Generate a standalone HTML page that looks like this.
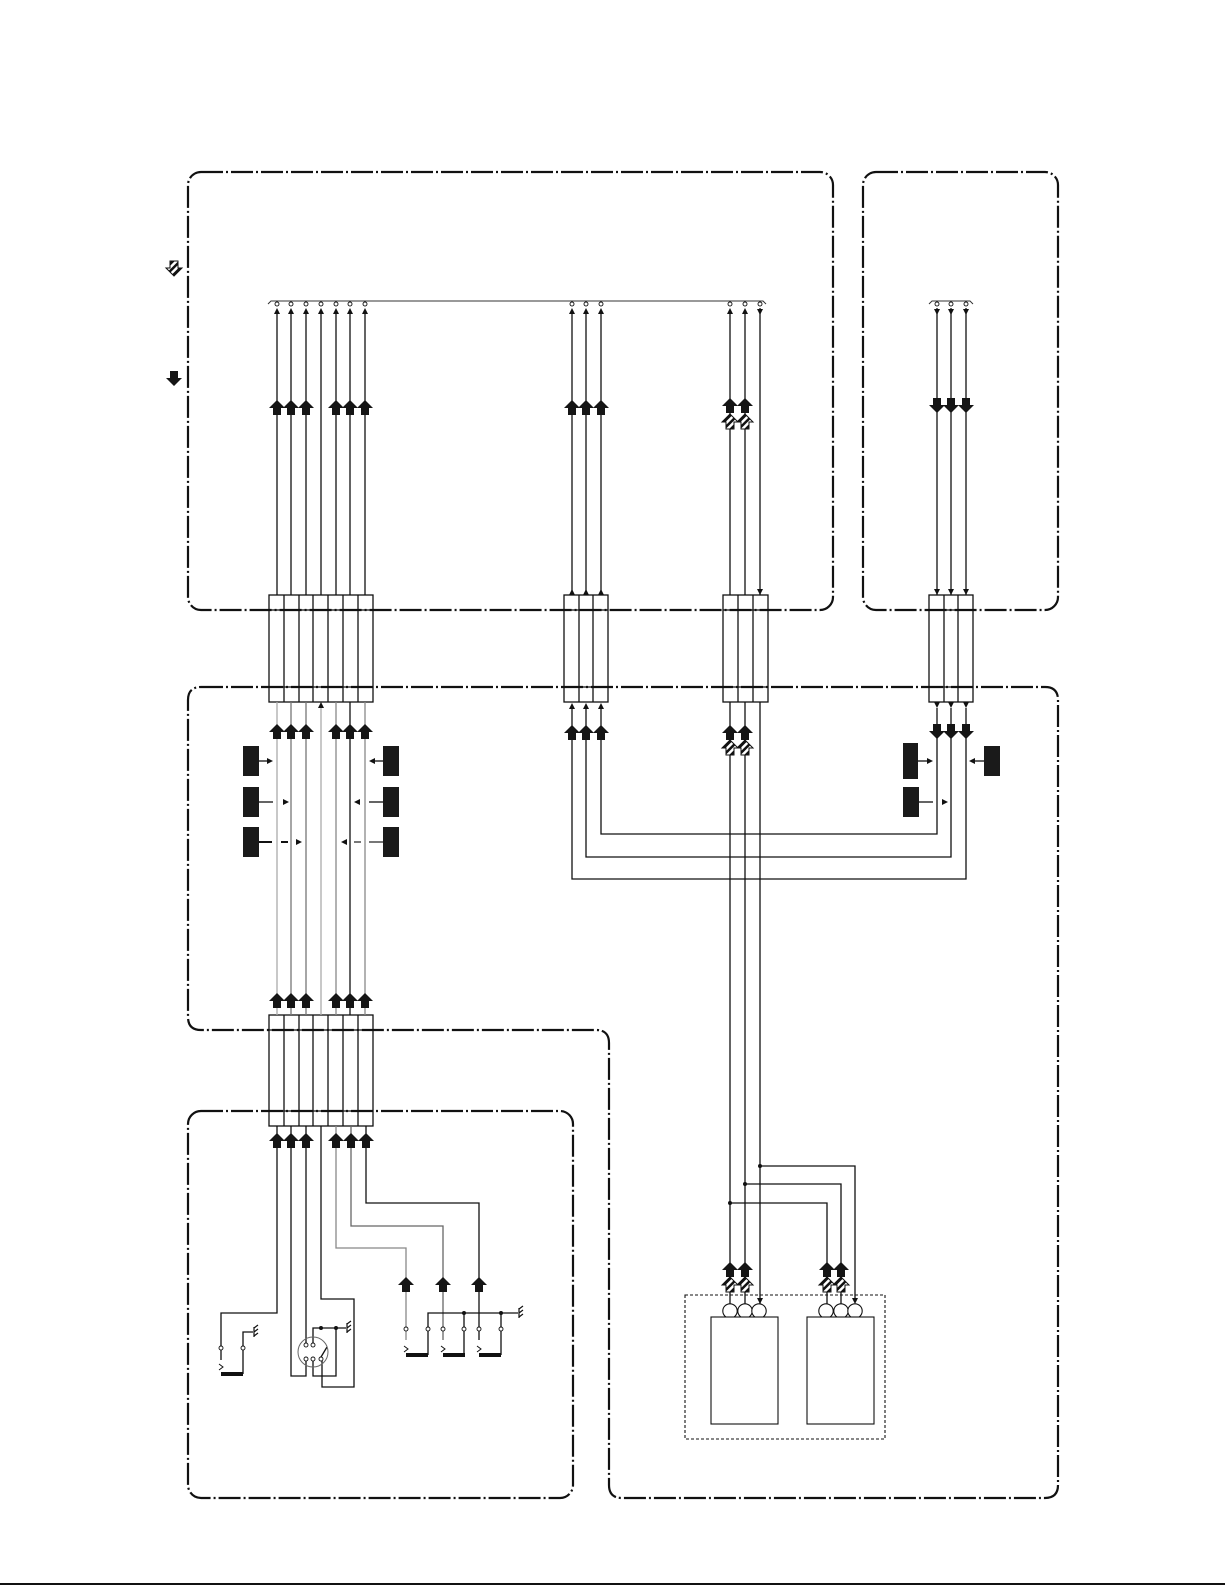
<!DOCTYPE html>
<html><head><meta charset="utf-8"><style>html,body{margin:0;padding:0;background:#fff}svg{display:block}</style></head>
<body>
<svg width="1225" height="1585" viewBox="0 0 1225 1585" xmlns="http://www.w3.org/2000/svg">
<defs>
<path id="au" d="M0,0 L8,8 L4,8 L4,15 L-4,15 L-4,8 L-8,8Z" fill="#151515"/>
<path id="ad" d="M0,15 L8,7 L4,7 L4,0 L-4,0 L-4,7 L-8,7Z" fill="#151515"/>
<pattern id="hp" width="5" height="5" patternUnits="userSpaceOnUse" patternTransform="rotate(45)"><rect width="5" height="5" fill="#fff"/><rect width="2.5" height="5" fill="#111"/></pattern>
<path id="ah" d="M0,0 L8,8 L4,8 L4,15 L-4,15 L-4,8 L-8,8Z" fill="url(#hp)" stroke="#111" stroke-width="1"/>
<path id="su" d="M0,0 L3,6 L-3,6Z" fill="#111"/>
<path id="sd" d="M0,0 L3,-6 L-3,-6Z" fill="#111"/>
<path id="sr" d="M0,0 L-6,-3 L-6,3Z" fill="#111"/>
<path id="sl" d="M0,0 L6,-3 L6,3Z" fill="#111"/>
<g id="gnd" stroke="#111" stroke-width="1.2" fill="none"><path d="M0,-5 V5 M0,-4 L4,-7 M0,0 L4,-3 M0,4 L4,1"/></g>
</defs>

<!-- dash-dot boxes -->
<g fill="none" stroke="#111" stroke-width="2.2" stroke-dasharray="22 3 2 3">
<rect x="188" y="172" width="645" height="438" rx="13"/>
<rect x="863" y="172" width="195" height="438" rx="13"/>
<path d="M201,687 H1045 Q1058,687 1058,700 V1485 Q1058,1498 1045,1498 H622 Q609,1498 609,1485 V1043 Q609,1030 596,1030 H201 Q188,1030 188,1017 V700 Q188,687 201,687 Z"/>
<rect x="188" y="1111" width="385" height="387" rx="13"/>
</g>
<line x1="0" y1="1584" x2="1225" y2="1584" stroke="#111" stroke-width="2"/>

<!-- legend icons -->
<use href="#ah" transform="translate(174,276) rotate(180)"/>
<use href="#ad" x="174" y="371"/>

<!-- brackets -->
<g fill="none" stroke="#333" stroke-width="1">
<path d="M268,304 L271,301 H763 L766,304"/>
<path d="M929,304 L932,301 H970 L973,304"/>
</g>

<!-- connectors -->
<g fill="none" stroke="#111" stroke-width="1.3">
<rect x="269" y="595" width="104" height="107"/>
<path d="M269,610 H373 M269,687 H373 M284,595 V702 M299,595 V702 M313,595 V702 M328,595 V702 M343,595 V702 M358,595 V702"/>
<rect x="564" y="595" width="44" height="107"/>
<path d="M564,610 H608 M564,687 H608 M579,595 V702 M593,595 V702"/>
<rect x="723" y="595" width="45" height="107"/>
<path d="M723,610 H768 M723,687 H768 M738,595 V702 M753,595 V702"/>
<rect x="929" y="595" width="44" height="107"/>
<path d="M929,610 H973 M929,687 H973 M944,595 V702 M958,595 V702"/>
<rect x="269" y="1015" width="104" height="111"/>
<path d="M269,1030 H373 M269,1111 H373 M284,1015 V1126 M299,1015 V1126 M313,1015 V1126 M328,1015 V1126 M343,1015 V1126 M358,1015 V1126"/>
</g>

<!-- top section wires -->
<g stroke="#111" stroke-width="1.3" fill="none">
<path d="M277,310 V595 M291,310 V595 M306,310 V595 M321,310 V595 M336,310 V595 M350,310 V595 M365,310 V595"/>
<path d="M572,310 V595 M586,310 V595 M601,310 V595"/>
<path d="M730,310 V595 M745,310 V595 M760,308 V595"/>
<path d="M937,308 V595 M951,308 V595 M966,308 V595"/>
</g>
<g fill="#fff" stroke="#111" stroke-width="0.9">
<circle cx="277" cy="304" r="2"/><circle cx="291" cy="304" r="2"/><circle cx="306" cy="304" r="2"/><circle cx="321" cy="304" r="2"/><circle cx="336" cy="304" r="2"/><circle cx="350" cy="304" r="2"/><circle cx="365" cy="304" r="2"/>
<circle cx="572" cy="304" r="2"/><circle cx="586" cy="304" r="2"/><circle cx="601" cy="304" r="2"/>
<circle cx="730" cy="304" r="2"/><circle cx="745" cy="304" r="2"/><circle cx="760" cy="304" r="2"/>
<circle cx="937" cy="304" r="2"/><circle cx="951" cy="304" r="2"/><circle cx="966" cy="304" r="2"/>
</g>
<g>
<use href="#su" x="277" y="308"/><use href="#su" x="291" y="308"/><use href="#su" x="306" y="308"/><use href="#su" x="321" y="308"/><use href="#su" x="336" y="308"/><use href="#su" x="350" y="308"/><use href="#su" x="365" y="308"/>
<use href="#su" x="572" y="308"/><use href="#su" x="586" y="308"/><use href="#su" x="601" y="308"/>
<use href="#su" x="730" y="308"/><use href="#su" x="745" y="308"/><use href="#sd" x="760" y="315"/>
<use href="#sd" x="937" y="315"/><use href="#sd" x="951" y="315"/><use href="#sd" x="966" y="315"/>
<use href="#su" x="572" y="589"/><use href="#su" x="586" y="589"/><use href="#su" x="601" y="589"/>
<use href="#sd" x="760" y="595"/>
<use href="#sd" x="937" y="595"/><use href="#sd" x="951" y="595"/><use href="#sd" x="966" y="595"/>
<use href="#au" x="277" y="400"/><use href="#au" x="291" y="400"/><use href="#au" x="306" y="400"/>
<use href="#au" x="336" y="400"/><use href="#au" x="350" y="400"/><use href="#au" x="365" y="400"/>
<use href="#au" x="572" y="400"/><use href="#au" x="586" y="400"/><use href="#au" x="601" y="400"/>
<use href="#au" x="730" y="398"/><use href="#au" x="745" y="398"/>
<use href="#ah" x="730" y="414"/><use href="#ah" x="745" y="414"/>
<use href="#ad" x="937" y="398"/><use href="#ad" x="951" y="398"/><use href="#ad" x="966" y="398"/>
</g>

<!-- middle section wires -->
<g fill="none" stroke-width="1.3">
<path d="M277,702 V1015" stroke="#aaa"/>
<path d="M291,702 V1015" stroke="#777"/>
<path d="M306,702 V1015" stroke="#777"/>
<path d="M321,708 V1015" stroke="#aaa"/>
<path d="M336,702 V1015" stroke="#888"/>
<path d="M350,702 V1015" stroke="#111"/>
<path d="M365,702 V1015" stroke="#888"/>
<g stroke="#111">
<path d="M601,709 V834 H937 V708"/>
<path d="M586,709 V857 H951 V708"/>
<path d="M572,709 V879 H966 V708"/>
<path d="M730,702 V1311 M745,702 V1311 M760,702 V1304"/>
<path d="M730,1203 H827 V1304 M745,1184 H841 V1304 M760,1166 H855 V1298"/>
</g>
</g>
<g>
<use href="#su" x="321" y="702"/>
<use href="#su" x="572" y="703"/><use href="#su" x="586" y="703"/><use href="#su" x="601" y="703"/>
<use href="#sd" x="937" y="708"/><use href="#sd" x="951" y="708"/><use href="#sd" x="966" y="708"/>
<use href="#au" x="277" y="724"/><use href="#au" x="291" y="724"/><use href="#au" x="306" y="724"/>
<use href="#au" x="336" y="724"/><use href="#au" x="350" y="724"/><use href="#au" x="365" y="724"/>
<use href="#au" x="572" y="725"/><use href="#au" x="586" y="725"/><use href="#au" x="601" y="725"/>
<use href="#au" x="730" y="725"/><use href="#au" x="745" y="725"/>
<use href="#ah" x="730" y="740"/><use href="#ah" x="745" y="740"/>
<use href="#ad" x="937" y="724"/><use href="#ad" x="951" y="724"/><use href="#ad" x="966" y="724"/>
<use href="#au" x="277" y="993"/><use href="#au" x="291" y="993"/><use href="#au" x="306" y="993"/>
<use href="#au" x="336" y="993"/><use href="#au" x="350" y="993"/><use href="#au" x="365" y="993"/>
</g>

<!-- black boxes -->
<g fill="#1a1a1a">
<rect x="243" y="746" width="16" height="30"/><rect x="243" y="787" width="16" height="30"/><rect x="243" y="827" width="16" height="30"/>
<rect x="383" y="746" width="16" height="30"/><rect x="383" y="787" width="16" height="30"/><rect x="383" y="827" width="16" height="30"/>
<rect x="903" y="743" width="15" height="36"/><rect x="903" y="787" width="16" height="30"/>
<rect x="984" y="746" width="16" height="30"/>
</g>
<g stroke="#111" stroke-width="1.3" fill="none">
<path d="M259,761 H269"/><path d="M259,802 H273"/><path d="M259,842 H272" stroke-width="2"/><path d="M281,842 H288" stroke-width="2"/>
<path d="M383,761 H373"/><path d="M383,802 H369"/><path d="M383,842 H369" stroke="#777" stroke-width="2"/><path d="M361,842 H354" stroke="#777" stroke-width="2"/>
<path d="M918,761 H929"/><path d="M919,802 H933"/><path d="M984,761 H973"/>
</g>
<g>
<use href="#sr" x="273" y="761"/><use href="#sr" x="289" y="802"/><use href="#sr" x="302" y="842"/>
<use href="#sl" x="369" y="761"/><use href="#sl" x="354" y="802"/><use href="#sl" x="341" y="842"/>
<use href="#sr" x="933" y="761"/><use href="#sr" x="948" y="802"/><use href="#sl" x="969" y="761"/>
</g>

<!-- junction dots -->
<g fill="#111"><circle cx="730" cy="1203" r="2"/><circle cx="745" cy="1184" r="2"/><circle cx="760" cy="1166" r="2"/></g>

<!-- bottom right device -->
<g>
<use href="#au" x="730" y="1262"/><use href="#au" x="745" y="1262"/>
<use href="#ah" x="730" y="1277"/><use href="#ah" x="745" y="1277"/>
<use href="#au" x="827" y="1262"/><use href="#au" x="841" y="1262"/>
<use href="#ah" x="827" y="1277"/><use href="#ah" x="841" y="1277"/>
<use href="#sd" x="760" y="1304"/><use href="#sd" x="855" y="1304"/>
</g>
<rect x="685" y="1295" width="200" height="144" fill="none" stroke="#111" stroke-width="1.1" stroke-dasharray="3 2"/>
<g fill="#fff" stroke="#111" stroke-width="1.1">
<circle cx="730" cy="1311" r="7.2"/><circle cx="745" cy="1311" r="7.2"/><circle cx="759" cy="1311" r="7.2"/>
<circle cx="826" cy="1311" r="7.2"/><circle cx="841" cy="1311" r="7.2"/><circle cx="855" cy="1311" r="7.2"/>
<rect x="711" y="1317" width="67" height="107"/>
<rect x="807" y="1317" width="67" height="107"/>
</g>

<!-- bottom left wires -->
<g fill="none" stroke="#111" stroke-width="1.3">
<path d="M277,1126 V1313 H221 V1346"/>
<path d="M243,1350 V1374 M243,1346 V1332 H253"/>
<path d="M221,1350 V1360"/>
<path d="M291,1126 V1376 H306 V1361"/>
<path d="M306,1126 V1343"/>
<path d="M321,1126 V1299 H354 V1387 H322 V1361"/>
<path d="M313,1343 V1328 H346 M336,1328 V1376 H313 V1361"/>
<path d="M321,1357 L327,1347"/>
<path d="M336,1126 V1248 H406 V1327 M406,1331 V1340" stroke="#888"/>
<path d="M351,1126 V1226 H443 V1327 M443,1331 V1340" stroke="#666"/>
<path d="M366,1126 V1203 H479 V1327 M479,1331 V1340"/>
<path d="M428,1327 V1313 H518 M428,1331 V1355 M464,1313 V1327 M464,1331 V1355 M501,1313 V1327 M501,1331 V1355"/>
<path d="M219,1364 L223,1367 L219,1370 M404,1346 L408,1349 L404,1352 M441,1346 L445,1349 L441,1352 M477,1346 L481,1349 L477,1352" stroke-width="1"/>
</g>
<circle cx="313" cy="1352" r="15" fill="none" stroke="#666" stroke-width="1"/>
<g fill="#fff" stroke="#111" stroke-width="0.9">
<circle cx="221" cy="1348" r="2"/><circle cx="243" cy="1348" r="2"/>
<circle cx="306" cy="1345" r="2"/><circle cx="313" cy="1345" r="2"/><circle cx="306" cy="1359" r="2"/><circle cx="313" cy="1359" r="2"/><circle cx="321" cy="1359" r="2"/>
<circle cx="406" cy="1329" r="2"/><circle cx="428" cy="1329" r="2"/><circle cx="443" cy="1329" r="2"/><circle cx="464" cy="1329" r="2"/><circle cx="479" cy="1329" r="2"/><circle cx="501" cy="1329" r="2"/>
</g>
<g fill="#111"><circle cx="321" cy="1328" r="2"/><circle cx="336" cy="1328" r="2"/><circle cx="464" cy="1313" r="2"/><circle cx="501" cy="1313" r="2"/></g>
<g fill="#111">
<rect x="221" y="1372" width="22" height="4"/>
<rect x="406" y="1353" width="22" height="4"/>
<rect x="443" y="1353" width="22" height="4"/>
<rect x="479" y="1353" width="22" height="4"/>
</g>
<use href="#gnd" x="254" y="1332"/><use href="#gnd" x="347" y="1328"/><use href="#gnd" x="519" y="1313"/>
<g>
<use href="#au" x="277" y="1133"/><use href="#au" x="291" y="1133"/><use href="#au" x="306" y="1133"/>
<use href="#au" x="336" y="1133"/><use href="#au" x="351" y="1133"/><use href="#au" x="366" y="1133"/>
<use href="#au" x="406" y="1277"/><use href="#au" x="443" y="1277"/><use href="#au" x="479" y="1277"/>
</g>
</svg>
</body></html>
